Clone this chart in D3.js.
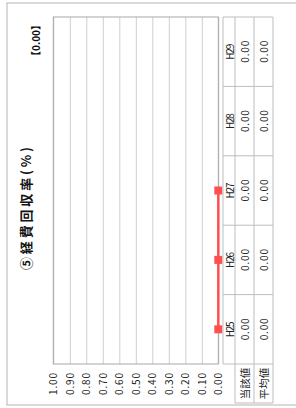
<!DOCTYPE html>
<html>
<head>
<meta charset="utf-8">
<script src="https://cdn.jsdelivr.net/npm/d3@7"></script>
<style>
  body { margin: 0; background: #fff; }
  svg { display: block; }
</style>
</head>
<body>
<div id="chart"></div>
<script>
// chart values
const years = ["H25", "H26", "H27", "H28", "H29"];
const currentValues = [0.00, 0.00, 0.00, null, null];
const currentLabels = ["0.00", "0.00", "0.00", "0.00", "0.00"];
const averageLabels = ["0.00", "0.00", "0.00", "0.00", "0.00"];
const rowNames = ["当該値", "平均値"];
const yTicks = [0, 0.1, 0.2, 0.3, 0.4, 0.5, 0.6, 0.7, 0.8, 0.9, 1.0];
const titleText = "⑤経費回収率(%)";
const headlineText = "【0.00】";

const W = 296, H = 408;
const jpFont = "'Noto Sans CJK JP', sans-serif";

const svg = d3.select('#chart').append('svg')
  .attr('width', W)
  .attr('height', H);

svg.append('rect').attr('width', W).attr('height', H).attr('fill', '#fff');

// the chart is laid out sideways: draw it landscape, then turn it
const g = svg.append('g')
  .attr('transform', `translate(0,${H}) rotate(-90)`);

const plot = { left: 44, right: 391, top: 53.3, bottom: 218.3 };

const x = d3.scaleBand()
  .domain(years)
  .range([plot.left, plot.right]);

const y = d3.scaleLinear()
  .domain([0, 1])
  .range([plot.bottom, plot.top]);

// numbers are set wide like the half-width gothic of the original
function num(sel, len) {
  sel.attr('font-family', jpFont)
    .attr('font-size', 10)
    .attr('fill', '#222')
    .attr('textLength', len)
    .attr('lengthAdjust', 'spacing');
}

// outer frame
g.append('rect')
  .attr('x', 3).attr('y', 7)
  .attr('width', 402).attr('height', 300)
  .attr('fill', 'none')
  .attr('stroke', '#b4b4b4');

// grid
const grid = g.append('g')
  .attr('transform', `translate(${plot.left},0)`)
  .call(d3.axisLeft(y).tickValues(yTicks).tickSize(-(plot.right - plot.left)).tickFormat(''));
grid.select('.domain').remove();
grid.selectAll('line').attr('stroke', '#cfcfcf');

g.append('rect')
  .attr('x', plot.left).attr('y', plot.top)
  .attr('width', plot.right - plot.left).attr('height', plot.bottom - plot.top)
  .attr('fill', 'none')
  .attr('stroke', '#a8a8a8');

// y tick labels
const yAxis = g.append('g')
  .attr('transform', `translate(${plot.left},0)`)
  .call(d3.axisLeft(y).tickValues(yTicks).tickSize(0).tickPadding(9).tickFormat(d3.format('.2f')));
yAxis.select('.domain').remove();
yAxis.selectAll('text').call(num, 22);

// line + markers
const line = d3.line()
  .defined(d => d != null)
  .x((d, i) => x(years[i]) + x.bandwidth() / 2)
  .y(d => y(d));

g.append('path')
  .datum(currentValues)
  .attr('d', line)
  .attr('fill', 'none')
  .attr('stroke', '#ff5050')
  .attr('stroke-width', 2.5);

g.selectAll('.mark')
  .data(currentValues.map((v, i) => ({ v, i })).filter(d => d.v != null))
  .enter().append('rect')
  .attr('class', 'mark')
  .attr('x', d => x(years[d.i]) + x.bandwidth() / 2 - 4)
  .attr('y', d => y(d.v) - 4)
  .attr('width', 8)
  .attr('height', 8)
  .attr('fill', '#ff5050');

// data table under the plot
const rows = [223, 235, 254, 273];
const tbl = g.append('g').attr('stroke', '#bdbdbd').attr('fill', 'none');

rows.forEach(r => {
  tbl.append('line')
    .attr('x1', r === 223 ? plot.left : 5).attr('x2', plot.right)
    .attr('y1', r).attr('y2', r);
});
[plot.left, plot.right].concat(years.slice(1).map(d => x(d))).forEach(c => {
  tbl.append('line')
    .attr('x1', c).attr('x2', c)
    .attr('y1', rows[0]).attr('y2', rows[3]);
});
tbl.append('line')
  .attr('x1', 5).attr('x2', 5)
  .attr('y1', rows[1]).attr('y2', rows[3]);

const cx = d => x(d) + x.bandwidth() / 2;

g.selectAll('.yr')
  .data(years)
  .enter().append('text')
  .attr('x', cx)
  .attr('y', (rows[0] + rows[1]) / 2 + 0.5)
  .attr('text-anchor', 'middle')
  .attr('dominant-baseline', 'central')
  .call(num, 16)
  .text(d => d);

[currentLabels, averageLabels].forEach((vals, k) => {
  g.selectAll('.v' + k)
    .data(vals)
    .enter().append('text')
    .attr('x', (d, i) => cx(years[i]))
    .attr('y', (rows[k + 1] + rows[k + 2]) / 2)
    .attr('text-anchor', 'middle')
    .attr('dominant-baseline', 'central')
    .call(num, 22)
    .text(d => d);

  g.append('text')
    .attr('x', (5 + plot.left) / 2)
    .attr('y', (rows[k + 1] + rows[k + 2]) / 2)
    .attr('text-anchor', 'middle')
    .attr('dominant-baseline', 'central')
    .attr('font-family', jpFont)
    .attr('font-size', 10.5)
    .attr('fill', '#222')
    .text(rowNames[k]);
});

// title and headline value
g.append('text')
  .attr('x', 199.5)
  .attr('y', 25)
  .attr('text-anchor', 'middle')
  .attr('dominant-baseline', 'central')
  .attr('font-family', jpFont)
  .attr('font-weight', 'bold')
  .attr('font-size', 13)
  .attr('textLength', 123)
  .attr('lengthAdjust', 'spacing')
  .attr('fill', '#111')
  .text(titleText);

g.append('text')
  .attr('x', 388)
  .attr('y', 35)
  .attr('text-anchor', 'end')
  .attr('dominant-baseline', 'central')
  .attr('font-family', jpFont)
  .attr('font-weight', 'bold')
  .attr('font-size', 10)
  .attr('fill', '#111')
  .text(headlineText);
</script>
</body>
</html>
